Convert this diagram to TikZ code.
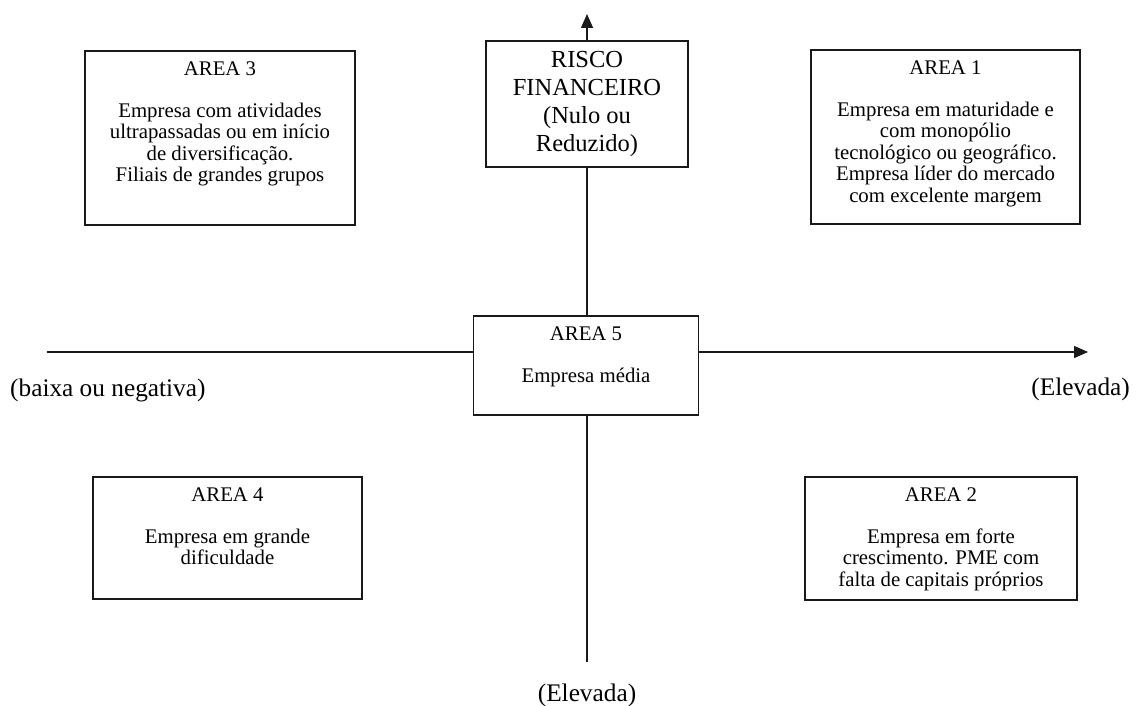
\documentclass[tikz,border=0pt]{standalone}
\usepackage{fontspec}
\setmainfont{Liberation Serif}
\usetikzlibrary{arrows.meta}
\begin{document}
\begin{tikzpicture}[x=1pt,y=-1pt,
  axis/.style={line width=1.4pt, draw=black!90},
  tip/.style={-{Triangle[length=14pt,width=12pt]}},
  areabox/.style={draw=black!90, line width=1.4pt, inner sep=0pt},
  boxtext/.style={font=\fontsize{20.8}{21.5}\selectfont, align=center, inner sep=0pt, anchor=north},
  axislabel/.style={font=\fontsize{25.3}{28}\selectfont, inner sep=0pt}
]
\useasboundingbox (0,0) rectangle (1136,706);

% central box and the risk box on the vertical axis
\node[areabox, minimum width=225pt, minimum height=99pt] (a5) at (586,365.5) {};
\node[boxtext] (a5t) at ([yshift=-11pt]a5.north) {AREA 5\\[20.5pt]Empresa média};

\node[areabox, minimum width=202pt, minimum height=126pt, align=center,
      font=\fontsize{24.5}{28}\selectfont] (risco) at (587,104)
      {RISCO\\FINANCEIRO\\(Nulo ou\\Reduzido)};

% quadrant boxes
\node[areabox, minimum width=270pt, minimum height=174pt] (a3) at (220,138) {};
\node[boxtext] (a3t) at ([yshift=-11pt]a3.north) {AREA 3\\[20.5pt]Empresa com atividades\\ultrapassadas ou em início\\de diversificação.\\Filiais de grandes grupos};

\node[areabox, minimum width=269pt, minimum height=174pt] (a1) at (945.5,137) {};
\node[boxtext] (a1t) at ([yshift=-11pt]a1.north) {AREA 1\\[20.5pt]Empresa em maturidade e\\com monopólio\\tecnológico ou geográfico.\\Empresa líder do mercado\\com excelente margem};

\node[areabox, minimum width=269pt, minimum height=122pt] (a4) at (227.5,538) {};
\node[boxtext] (a4t) at ([yshift=-11pt]a4.north) {AREA 4\\[20.5pt]Empresa em grande\\dificuldade};

\node[areabox, minimum width=272pt, minimum height=123pt] (a2) at (941,538.5) {};
\node[boxtext] (a2t) at ([yshift=-11pt]a2.north) {AREA 2\\[20.5pt]Empresa em forte\\crescimento. PME com\\falta de capitais próprios};

% axes
\coordinate (xl) at (47,352);
\coordinate (xr) at (1088,352);
\coordinate (yt) at (587,14);
\coordinate (yb) at (587,662);

\draw[axis] (xl) -- (xl -| a5.west);
\draw[axis, tip] (xl -| a5.east) -- (xr);
\draw[axis, tip] (risco.north) -- (yt);
\draw[axis] (risco.south) -- (risco.south |- a5.north);
\draw[axis] (yb |- a5.south) -- (yb);

% axis labels
\node[axislabel, anchor=west] (lowlbl) at (10,390) {(baixa ou negativa)};
\node[axislabel, anchor=east] (highlbl) at (1130,389) {(Elevada)};
\node[axislabel] (bottomlbl) at (587,695) {(Elevada)};
\end{tikzpicture}
\end{document}
